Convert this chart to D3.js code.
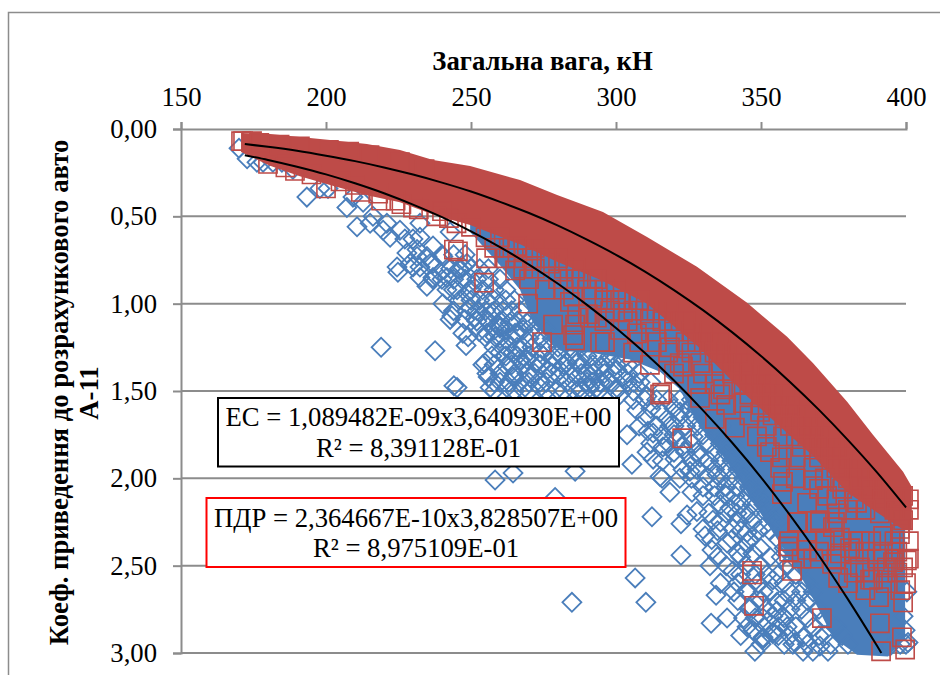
<!DOCTYPE html>
<html>
<head>
<meta charset="utf-8">
<script src="https://cdn.jsdelivr.net/npm/d3@7"></script>
<style>
    body { margin: 0; background: #fff; }
    text { font-family: "Liberation Serif", serif; fill: #000; }
</style>
</head>
<body>
<div id="chart"></div>
<script>
// Axis values
var xTicks = [150, 200, 250, 300, 350, 400];
var yTicks = [0, 0.5, 1, 1.5, 2, 2.5, 3];

// Trend lines
var trendX = [172, 180, 190, 200, 210, 220, 230, 240, 250, 260, 270, 280, 290, 300, 310, 320, 330, 340, 350, 360, 370, 380, 390, 391.5];
var trendEC = [0.150, 0.177, 0.216, 0.260, 0.311, 0.368, 0.433, 0.505, 0.586, 0.676, 0.776, 0.886, 1.007, 1.139, 1.283, 1.440, 1.611, 1.795, 1.994, 2.211, 2.443, 2.693, 2.959, 3.0];
var trendPdrX = [172, 180, 190, 200, 210, 220, 230, 240, 250, 260, 270, 280, 290, 300, 310, 320, 330, 340, 350, 360, 370, 380, 390, 400];
var trendPDR = [0.086, 0.102, 0.125, 0.153, 0.184, 0.220, 0.261, 0.307, 0.358, 0.417, 0.481, 0.553, 0.633, 0.720, 0.816, 0.922, 1.037, 1.163, 1.300, 1.448, 1.608, 1.781, 1.966, 2.167];

// Edges of the part of the red series where the squares merge into a solid mass
var redBandX = [170.7, 180.7, 191, 201.4, 214.1, 225.5, 236.9, 249.7, 266.9, 279.7, 295.5, 310.7, 327.9, 345.2, 359, 367.9, 379.7, 388.6, 399, 402];
var redBandTop = [0.023, 0.029, 0.046, 0.063, 0.086, 0.12, 0.177, 0.212, 0.292, 0.378, 0.475, 0.618, 0.789, 0.995, 1.19, 1.339, 1.562, 1.751, 1.962, 2.048];
var redBandBottom = [0.132, 0.21, 0.27, 0.32, 0.38, 0.42, 0.49, 0.55, 0.66, 0.76, 0.87, 1.0, 1.24, 1.53, 1.74, 1.87, 2.08, 2.18, 2.294, 2.294];

// Same for the blue series (its upper edge sits under the red mass)
var blueBandX = [249.7, 260, 266.9, 271.4, 280.7, 291, 304.8, 315.2, 322, 328, 335.9, 342.8, 354.1, 362.4, 368.6, 374.8, 383.1, 393.8, 399.7];
var blueBandTop = [0.47, 0.55, 0.6, 0.63, 0.68, 0.74, 0.85, 0.95, 1.02, 1.08, 1.15, 1.25, 1.4, 1.52, 1.62, 1.72, 1.85, 2.1, 2.2];
var blueBandBottom = [0.59, 0.78, 0.92, 1.11, 1.27, 1.28, 1.32, 1.39, 1.49, 1.68, 1.85, 2.02, 2.31, 2.52, 2.71, 2.91, 3.01, 3.02, 2.92];

// Single markers outside the solid mass: [weight, coefficient]
var bluePoints = [
    [170, .11], [172.8, .17], [176.2, .19], [178.3, .19], [181.7, .19], [184.8, .19], [188.6, .23], [193.4, .39], [197.9, .34], [200.7, .34],
    [207.2, .45], [210.7, .56], [209.3, .39], [212.8, .42], [216.2, .50], [215.2, .54], [221, .54], [219.7, .58], [225.5, .58], [224.5, .79],
    [224.8, .82], [222.1, .62], [227.2, .63], [230, .63], [227.9, .71], [231.4, .73], [234.8, .73], [236.9, .77], [232.4, .79], [230, .79],
    [234.8, .90], [239.3, .82], [241.7, .85], [240.3, 1.0], [242.8, 1.09], [247.2, 1.17], [245.2, .92], [248.6, .94], [236.9, .86], [247.2, .79],
    [242.8, .59], [232.4, .54], [219, 1.25], [237.6, 1.27], [244.1, 1.47], [245.2, 1.48], [248.3, 1.24], [252.8, 1.16], [243.4, 1.07], [249.7, 1.02],
    [251.4, 1.08], [247.9, 1.09], [249, 1.19], [254.8, 1.19], [258.3, 1.19], [254.8, 1.08], [252.1, 1.04], [248.6, 1.04], [232.4, .85], [229, .77],
    [231.4, .69], [236.9, .85], [241.7, .92], [246.2, .81], [240.3, .73], [235.9, .77], [236.9, .67], [232.4, .62], [248.6, .77], [250.7, .90],
    [255.5, .98], [261, 1.04], [263.4, 1.11], [260, 1.13], [265.2, 1.17], [269.3, 1.11], [254.8, 1.34], [257.2, 1.30], [260, 1.28], [264.5, 1.28],
    [269.3, 1.32], [273.8, 1.28], [278.3, 1.30], [283.1, 1.34], [287.6, 1.32], [260, 1.40], [255.5, 1.40], [256.6, 1.48], [264.5, 1.42], [270.3, 1.42],
    [276.2, 1.38], [280.7, 1.42], [286.6, 1.42], [292.1, 1.40], [262.4, 1.48], [267.9, 1.49], [273.8, 1.48], [279.7, 1.49], [285.2, 1.49], [291, 1.48],
    [257.2, 1.05], [255.5, 1.17], [260, 1.14], [265.9, 1.17], [254.1, 1.35], [255.9, 1.42], [262.4, 1.36], [266.9, 1.32], [269.3, 1.40], [272.8, 1.34],
    [265.9, 1.25], [280.7, 1.38], [286.6, 1.34], [290, 1.40], [294.5, 1.36], [300.3, 1.38], [302.4, 1.32], [287.6, 1.48], [294.5, 1.45], [273.8, 1.45],
    [266.9, 1.45], [260, 1.45], [258.3, 2.01], [264.5, 1.97], [285.9, 1.96], [279, 2.11], [312.4, 2.22], [306.6, 2.57], [284.8, 2.71], [310.3, 2.71],
    [322.4, 2.44], [322.4, 2.26], [324.5, 2.21], [327.9, 2.19], [318.6, 2.08], [326.2, 2.08], [330, 2.05], [315.2, 1.99], [332.4, 2.50], [333.1, 2.41],
    [330.7, 2.33], [330, 2.29], [333.4, 2.24], [338.3, 2.37], [340.3, 2.29], [342.1, 2.43], [337.9, 2.10], [334.5, 2.67], [340.7, 2.65], [332.8, 2.83],
    [338.3, 2.80], [345.2, 2.85], [347.9, 2.99], [347.9, 2.88], [340.3, 2.53], [346.2, 2.74], [341.7, 2.20], [345.2, 2.31], [350.7, 2.91], [354.1, 2.89],
    [350.7, 2.80], [355.5, 2.76], [364.5, 2.99], [367.9, 2.99], [373.1, 2.99], [361, 2.95], [303.8, 1.75], [305.5, 1.92], [311, 1.73], [312.8, 1.74],
    [307.2, 1.61], [310.7, 1.85], [312.8, 1.89], [320.3, 1.89], [315.9, 2.0], [323.1, 1.95], [327.9, 1.85], [322.8, 1.82], [314.1, 1.70], [317.6, 1.66],
    [322.1, 1.62], [316.2, 1.82], [305.9, 1.55], [301.4, 1.52], [325.5, 1.96], [321, 1.78], [326.6, 1.76], [329, 1.88], [331.4, 1.99], [318.6, 1.70],
    [315.2, 1.62], [310.7, 1.53], [308.3, 1.45], [302.4, 1.42], [300.3, 1.48], [296.9, 1.44], [293.4, 1.48], [334.8, 1.98], [337.6, 2.09], [339.3, 2.17],
    [345.2, 2.37], [347.2, 2.43], [350.7, 2.28], [353.1, 2.45], [349.7, 2.12], [344.5, 2.20], [345.2, 2.64], [354.1, 2.58], [350.7, 2.65], [355.5, 2.71],
    [354.1, 2.79], [357.6, 2.79], [347.2, 2.87], [350.7, 2.92], [354.1, 2.88], [361.7, 2.94], [370.3, 2.96], [364.5, 2.91], [359, 2.85], [346.2, 2.06],
    [400.3, 2.65], [399, 2.79], [400.7, 2.94], [394.5, 2.96], [399.7, 2.87]
];

// Crowded rows of blue diamonds: one coefficient, the weights seen on that row
var blueRowY = [.72, .80, .86, .92, .98, 1.04, 1.10, 1.15, 1.20, 1.25, 1.30, 1.35, 1.40, 1.45, 1.50,
    1.55, 1.6, 1.65, 1.7, 1.75, 1.8, 1.85, 1.9, 1.95, 2.0, 2.05, 2.1, 2.15, 2.2, 2.25, 2.3, 2.35, 2.4, 2.45, 2.5, 2.55, 2.6, 2.65, 2.7, 2.75, 2.8, 2.85, 2.9, 2.95];
var blueRowX = [
    [240, 244, 248], [243, 246, 250, 253, 256], [240, 244, 248, 252, 256, 260], [244, 250, 254, 258, 262], [246, 250, 253, 258, 262, 265],
    [244, 255, 258, 264, 267], [252, 256, 260, 266, 270, 273], [258, 262, 268, 272, 276], [260, 264, 270, 274, 278], [258, 262, 268, 271, 276, 280, 284, 288],
    [262, 266, 270, 275, 281, 285, 290, 294, 298], [258, 264, 268, 274, 278, 282, 288, 292, 296, 300, 304], [265, 272, 278, 284, 288, 296, 299, 304, 308],
    [258, 263, 270, 276, 283, 290, 292, 298, 304, 306, 312], [258, 265, 270, 276, 282, 288, 294, 300, 306],
    [310, 314, 318, 322, 326], [312, 320, 325, 328], [310, 322, 326, 330, 333], [308, 320, 324, 328, 332, 336], [316, 320, 330, 334, 338],
    [312, 318, 326, 332, 336, 340], [320, 324, 334, 338, 342], [316, 326, 332, 336, 340, 344], [328, 334, 338, 342, 346], [322, 326, 336, 340, 344, 348],
    [334, 338, 342, 346, 350], [330, 334, 341, 345, 349, 352], [336, 343, 347, 351, 354], [332, 338, 346, 352, 356], [336, 342, 347, 355, 358],
    [335, 343, 349, 353, 360], [333, 340, 346, 356, 362], [344, 350, 358, 360], [335, 343, 357, 361], [338, 345, 350, 359, 364],
    [343, 348, 352, 356, 362], [336, 342, 349, 358, 366], [345, 353, 360, 364, 368], [342, 350, 358, 362, 366], [346, 352, 360, 364, 370],
    [344, 348, 358, 366, 372], [351, 356, 362, 368, 376], [343, 356, 360, 370, 372, 378], [350, 358, 366, 374, 380, 398, 400]
];

var redPoints = [
    [170.7, .07], [171.4, .07], [174.5, .07], [177, .08], [184, .09], [191, .10], [201, .12], [208, .13], [215, .15], [225.5, .19],
    [234, .23], [189.3, .24], [200, .34], [219, .41], [230, .45], [242.4, .51], [244.1, .69], [245.5, .70], [255.2, .74], [254.5, .88],
    [265.2, .81], [269.7, 1.0], [274.5, 1.22], [278.3, 1.12], [285.2, 1.18], [275.5, .92], [285.2, .96], [285.9, 1.12], [291, 1.08], [293.4, .86],
    [265.9, .67], [277.2, .77], [285.9, 1.21], [294.5, 1.22], [296.2, 1.22], [305.9, 1.28], [311.7, 1.35], [315.2, 1.52], [315.9, 1.51], [334.1, 1.66],
    [322.8, 1.77], [329, 1.54], [341, 1.71], [356.6, 1.94], [357.6, 2.02], [359.3, 2.39], [362.8, 2.25], [370.3, 2.25], [375.5, 2.25], [346.9, 2.55],
    [346.9, 2.53], [360.7, 2.53], [374.5, 2.49], [376.6, 2.57], [347.6, 2.73], [371, 2.80], [391, 2.83], [398.6, 2.91], [391.4, 2.99], [399.7, 2.98],
    [390.7, 2.68], [399, 2.71], [388.6, 2.58], [399, 2.51], [380.7, 2.40], [377.2, 2.34], [393.4, 2.51], [384.1, 2.36], [397.9, 2.32], [293.4, 1.08],
    [301.4, 1.15], [314.1, 1.22], [307.2, 1.17], [302.4, 1.05], [311.7, 1.09], [318.6, 1.25], [323.1, 1.36], [329, 1.34], [336.9, 1.49], [343.8, 1.57],
    [349.7, 1.62], [348.6, 1.76], [357.6, 1.76], [353.1, 1.85], [357.2, 1.88], [357.2, 2.09], [362.4, 2.25], [359.7, 2.36], [359.7, 2.42], [365.9, 2.41],
    [370.3, 2.24], [374.8, 2.28], [377.2, 2.43], [381.7, 2.36], [376.2, 2.20], [383.1, 2.14], [391, 2.20], [397.9, 2.29], [399, 2.10], [399, 2.24],
    [400.3, 2.47], [395.5, 2.48], [392.1, 2.33], [386.6, 2.05], [377.2, 2.02], [365.9, 2.14], [367.9, 2.01], [372.8, 2.10], [387.6, 2.58], [384.1, 2.51],
    [284.1, .99], [286.6, 1.06], [290.3, 1.06], [301.4, .98], [292.1, .96],
    [180, .20], [186, .22], [195, .26], [205, .30], [210, .32], [218, .37], [224, .41], [232, .46], [238, .50], [245, .54], [250, .56], [240, .47], [226, .43], [212, .36]
];

// Crowded rows of red squares below the solid mass
var redRowY = [.62, .68, .74, .80, .86, .92, .98, 1.04, 1.10, 1.16, 1.22, 1.28, 1.34, 1.40, 1.46, 1.52, 1.58, 1.64, 1.70, 1.76, 1.82, 1.88, 1.94, 2.00, 2.06, 2.12, 2.18, 2.36, 2.42, 2.46, 2.54, 2.6, 2.64];
var redRowX = [
    [255, 260], [258, 263, 268, 272], [262, 266, 271, 276, 280], [268, 272, 282, 286], [270, 280, 284, 288, 292], [282, 290, 296, 300], [296, 300, 304, 308],
    [298, 306, 310, 314, 318], [296, 304, 316, 320, 324], [312, 320, 326, 330], [308, 324, 328, 332, 336], [318, 326, 334, 338, 342], [322, 336, 340, 344],
    [320, 330, 340, 346, 350], [328, 334, 344, 348, 352], [336, 346, 350, 354, 358], [338, 350, 356, 360], [346, 354, 358, 362, 366], [352, 360, 364, 368],
    [362, 366, 370, 374], [352, 364, 368, 372, 376], [362, 370, 374, 378], [368, 376, 380, 384], [362, 372, 380, 384, 388], [370, 378, 388, 392],
    [376, 382, 392, 396, 401], [380, 386, 396, 401], [366, 372, 388, 396, 401], [370, 382, 386, 392, 397], [364, 368, 376, 390, 396, 401],
    [382, 386, 392, 397], [380, 393, 400], [386, 398]
];

var svgWidth = 940;
var svgHeight = 675;
var chartMargin = { top: 129, right: 34, bottom: 22, left: 181 };
var fontSize = "26.7px";
var blue = "#4a7ebb";
var red = "#be4b48";
var gray = "#8c8c8c";

var svg = d3.select("#chart")
    .append("svg")
    .attr("width", svgWidth)
    .attr("height", svgHeight);

// Outer chart frame, only top and left reach inside the picture
svg.append("path")
    .attr("d", "M8.5,675V12.5H940")
    .attr("fill", "none")
    .attr("stroke", gray)
    .attr("stroke-width", 1.5);

var xScale = d3.scaleLinear()
    .domain([150, 400])
    .range([chartMargin.left, svgWidth - chartMargin.right]);
var yScale = d3.scaleLinear()
    .domain([0, 3])
    .range([chartMargin.top, svgHeight - chartMargin.bottom]);

// Gridlines
svg.append("g")
    .selectAll("line")
    .data(yTicks.slice(1))
    .enter()
    .append("line")
    .attr("x1", xScale(150))
    .attr("x2", xScale(400))
    .attr("y1", d => yScale(d))
    .attr("y2", d => yScale(d))
    .attr("stroke", gray)
    .attr("stroke-width", 2);

// Axes
var topAxis = d3.axisTop(xScale).tickValues(xTicks).tickSize(7).tickSizeOuter(7).tickPadding(16);
var leftAxis = d3.axisLeft(yScale).tickValues(yTicks).tickSize(8).tickSizeOuter(8).tickPadding(16)
    .tickFormat(d => d3.format(".2f")(d).replace(".", ","));

var xAxisGroup = svg.append("g")
    .attr("transform", `translate(0, ${chartMargin.top})`)
    .call(topAxis);
var yAxisGroup = svg.append("g")
    .attr("transform", `translate(${chartMargin.left}, 0)`)
    .call(leftAxis);
[xAxisGroup, yAxisGroup].forEach(g => {
    g.selectAll("path, line").attr("stroke", gray).attr("stroke-width", 2);
    g.selectAll("text").style("font-size", fontSize).style("font-family", "Liberation Serif");
});

// Blue series
var blueBand = d3.area()
    .x((d, i) => xScale(blueBandX[i]))
    .y0((d, i) => yScale(blueBandTop[i]))
    .y1((d, i) => yScale(blueBandBottom[i]));
svg.append("path")
    .attr("d", blueBand(blueBandX))
    .attr("fill", blue);

var blueRows = blueRowY.flatMap((y, i) => blueRowX[i].map(x => [x, y]));
var diamond = d3.symbol().type(d3.symbolSquare).size(180);
svg.append("g")
    .selectAll("path")
    .data(bluePoints.concat(blueRows))
    .enter()
    .append("path")
    .attr("d", diamond)
    .attr("transform", d => `translate(${xScale(d[0])}, ${yScale(d[1])}) rotate(45)`)
    .attr("fill", "none")
    .attr("stroke", blue)
    .attr("stroke-width", 1.8);

// Red series
var redBand = d3.area()
    .x((d, i) => xScale(redBandX[i]))
    .y0((d, i) => yScale(redBandTop[i]))
    .y1((d, i) => yScale(redBandBottom[i]));
svg.append("path")
    .attr("d", redBand(redBandX))
    .attr("fill", red);

var redRows = redRowY.flatMap((y, i) => redRowX[i].map(x => [x, y]));
var square = d3.symbol().type(d3.symbolSquare).size(330);
svg.append("g")
    .selectAll("path")
    .data(redPoints.concat(redRows))
    .enter()
    .append("path")
    .attr("d", square)
    .attr("transform", d => `translate(${xScale(d[0])}, ${yScale(d[1])})`)
    .attr("fill", "none")
    .attr("stroke", red)
    .attr("stroke-width", 1.6);

// Trend lines
var trendLine = d3.line()
    .x(d => xScale(d[0]))
    .y(d => yScale(d[1]))
    .curve(d3.curveMonotoneX);
svg.append("path")
    .attr("d", trendLine(d3.zip(trendX, trendEC)))
    .attr("fill", "none")
    .attr("stroke", "#000")
    .attr("stroke-width", 2);
svg.append("path")
    .attr("d", trendLine(d3.zip(trendPdrX, trendPDR)))
    .attr("fill", "none")
    .attr("stroke", "#000")
    .attr("stroke-width", 2);

// Equation boxes
svg.append("rect")
    .attr("x", 218).attr("y", 398).attr("width", 401).attr("height", 68.5)
    .attr("fill", "#fff").attr("stroke", "#000").attr("stroke-width", 2);
svg.append("rect")
    .attr("x", 206.5).attr("y", 498).attr("width", 419).attr("height", 69)
    .attr("fill", "#fff").attr("stroke", "#ff0000").attr("stroke-width", 2);

var labels = [
    ["ЕС = 1,089482E-09x3,640930E+00", 418.5, 426],
    ["R² = 8,391128E-01", 418.5, 457],
    ["ПДР = 2,364667E-10x3,828507E+00", 416, 527],
    ["R² = 8,975109E-01", 416, 557]
];
svg.append("g")
    .selectAll("text")
    .data(labels)
    .enter()
    .append("text")
    .attr("x", d => d[1])
    .attr("y", d => d[2])
    .attr("text-anchor", "middle")
    .style("font-size", fontSize)
    .text(d => d[0]);

// Axis titles
svg.append("text")
    .attr("x", 542.5)
    .attr("y", 70)
    .attr("text-anchor", "middle")
    .style("font-size", fontSize)
    .style("font-weight", "bold")
    .text("Загальна вага, кН");

svg.append("text")
    .attr("transform", "translate(68, 392.5) rotate(-90)")
    .attr("text-anchor", "middle")
    .style("font-size", fontSize)
    .style("font-weight", "bold")
    .text("Коеф. приведення до розрахункового авто");
svg.append("text")
    .attr("transform", "translate(98, 393) rotate(-90)")
    .attr("text-anchor", "middle")
    .style("font-size", fontSize)
    .style("font-weight", "bold")
    .text("А-11");
</script>
</body>
</html>
